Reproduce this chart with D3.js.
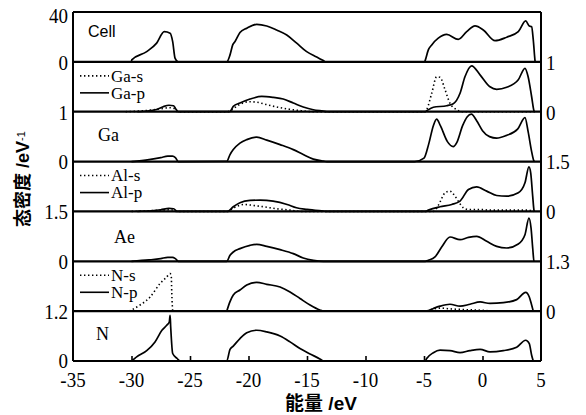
<!DOCTYPE html>
<html>
<head>
<meta charset="utf-8">
<script src="https://cdn.jsdelivr.net/npm/d3@7"></script>
<style>
  body { margin: 0; background: #fff; }
  text { fill: #000; }
</style>
</head>
<body>
<svg id="chart" width="586" height="415"></svg>
<script>
// energy axis
const energyTicks = [-35, -30, -25, -20, -15, -10, -5, 0, 5];

// density of states, [energy eV, value]
const cellTotal = [
  [-30.0, 0], [-29.98, 1.6], [-28.7, 8.2], [-27.85, 15], [-27.2, 24.2], [-26.7, 23], [-26.48, 16.2], [-26.28, 3], [-26.0, 0],
  [-21.86, 0], [-21.58, 5.6], [-21.35, 13.6], [-21.15, 16.3], [-20.73, 23.5], [-20.15, 27], [-19.3, 30.1], [-18.44, 28.8],
  [-17.6, 25.6], [-16.73, 21.6], [-15.88, 15], [-15.03, 8.2], [-14.17, 3.8], [-13.6, 1], [-13.4, 0],
  [-4.95, 0], [-4.91, 0.8], [-4.63, 9.6], [-4.34, 13.6], [-3.78, 19], [-3.06, 22], [-2.07, 18], [-1.35, 24.2], [-0.64, 28.8],
  [0.07, 25.6], [1.07, 17], [2.07, 19.8], [3.06, 24.2], [3.69, 32.8], [4.0, 28.8], [4.2, 28.2], [4.34, 17.6], [4.49, 0.8], [4.5, 0]
];
const gaS = [
  [-30.5, 0], [-29.5, 0.01], [-28.5, 0.03], [-27.5, 0.06], [-26.8, 0.08], [-26.3, 0.06], [-26.1, 0],
  [-21.8, 0], [-21.5, 0.03], [-20.8, 0.14], [-20.0, 0.2], [-19.3, 0.19], [-18.4, 0.14], [-17.5, 0.09], [-16.5, 0.05], [-15.5, 0.02], [-14.5, 0],
  [-4.9, 0], [-4.77, 0.04], [-4.34, 0.37], [-3.92, 0.7], [-3.63, 0.69], [-3.2, 0.44], [-2.78, 0.17], [-2.2, 0.04], [-1.8, 0], [4.5, 0]
];
const gaP = [
  [-29.5, 0], [-28.5, 0.02], [-27.8, 0.05], [-27.3, 0.1], [-26.8, 0.13], [-26.4, 0.12], [-26.2, 0.05], [-26.0, 0],
  [-21.7, 0], [-21.58, 0.006], [-21.3, 0.106], [-20.73, 0.174], [-19.87, 0.254], [-18.87, 0.306], [-17.88, 0.286], [-17.03, 0.254],
  [-16.17, 0.174], [-15.32, 0.094], [-14.46, 0.04], [-13.6, 0.014], [-13.2, 0],
  [-4.9, 0], [-4.77, 0.02], [-4.2, 0.09], [-3.06, 0.12], [-2.5, 0.16], [-1.92, 0.37], [-1.5, 0.7], [-0.93, 0.92], [-0.21, 0.74],
  [0.64, 0.5], [1.21, 0.45], [2.07, 0.49], [3.06, 0.64], [3.63, 0.87], [3.9, 0.7], [4.2, 0.3], [4.4, 0.02], [4.45, 0]
];
const gaTotal = [
  [-30, 0], [-28.5, 0.04], [-27.5, 0.08], [-26.9, 0.11], [-26.5, 0.11], [-26.25, 0.08], [-26.0, 0],
  [-21.86, 0.006], [-21.58, 0.14], [-21.3, 0.24], [-20.73, 0.37], [-20.15, 0.44], [-19.3, 0.49], [-18.44, 0.43], [-17.3, 0.34],
  [-16.17, 0.24], [-15.32, 0.14], [-14.46, 0.05], [-13.6, 0.01], [-13.3, 0],
  [-5.8, 0], [-5.0, 0.07], [-4.6, 0.35], [-4.2, 0.72], [-3.92, 0.85], [-3.6, 0.72], [-3.0, 0.4], [-2.5, 0.3], [-2.2, 0.38],
  [-1.7, 0.72], [-1.3, 0.9], [-0.95, 0.95], [-0.5, 0.82], [0, 0.62], [0.6, 0.5], [1.2, 0.47], [2.0, 0.52], [3.0, 0.65],
  [3.63, 0.88], [3.9, 0.6], [4.2, 0.2], [4.4, 0.01], [4.45, 0]
];
const alS = [
  [-30, 0], [-28.5, 0.02], [-27.3, 0.04], [-26.6, 0.05], [-26.2, 0],
  [-21.8, 0], [-21.3, 0.1], [-20.4, 0.21], [-19.6, 0.18], [-18.7, 0.14], [-17.6, 0.08], [-16.4, 0.04], [-15.5, 0],
  [-4.2, 0], [-3.78, 0.18], [-3.2, 0.56], [-2.78, 0.61], [-2.35, 0.46], [-2.07, 0.31], [-1.64, 0.11], [-1.2, 0.06],
  [-0.2, 0.06], [0.6, 0.04], [3.8, 0.04], [4.4, 0]
];
const alP = [
  [-29.5, 0], [-28.3, 0.02], [-27.5, 0.05], [-26.8, 0.09], [-26.4, 0.08], [-26.1, 0],
  [-21.8, 0], [-21.3, 0.14], [-20.73, 0.26], [-19.87, 0.33], [-19, 0.34], [-17.9, 0.31], [-16.7, 0.21], [-15.9, 0.11],
  [-15, 0.06], [-13.6, 0.01], [-13.3, 0],
  [-4.9, 0], [-4.63, 0.04], [-3.63, 0.14], [-2.63, 0.21], [-1.92, 0.31], [-1.2, 0.66], [-0.5, 0.74], [0.36, 0.61],
  [1.21, 0.48], [2.07, 0.46], [3.06, 0.56], [3.63, 0.86], [3.97, 1.34], [4.12, 1.16], [4.29, 0.46], [4.4, 0.04], [4.45, 0]
];
const aeTotal = [
  [-30, 0], [-28.5, 0.04], [-27.5, 0.08], [-26.9, 0.12], [-26.5, 0.12], [-26.25, 0.08], [-26, 0],
  [-21.86, 0], [-21.58, 0.18], [-21.3, 0.28], [-20.73, 0.38], [-19.87, 0.48], [-19.3, 0.51], [-18.44, 0.45], [-17.3, 0.35],
  [-16.17, 0.23], [-15.32, 0.1], [-14.46, 0.03], [-13.6, 0],
  [-4.9, 0], [-4.63, 0.03], [-4.06, 0.13], [-3.49, 0.43], [-2.78, 0.73], [-1.92, 0.65], [-1.2, 0.72], [-0.5, 0.75],
  [0.36, 0.6], [1.21, 0.45], [2.07, 0.4], [3.06, 0.52], [3.63, 0.8], [3.97, 1.3], [4.15, 1.0], [4.29, 0.4], [4.4, 0.01], [4.45, 0]
];
const nS = [
  [-30.2, 0], [-30, 0.03], [-29.27, 0.16], [-28.4, 0.37], [-27.56, 0.72], [-26.99, 0.89], [-26.7, 0.98], [-26.6, 0.9],
  [-26.56, 0.5], [-26.48, 0.03], [-26.4, 0],
  [-4.8, 0], [-4.5, 0.03], [-3.63, 0.08], [-2.78, 0.06], [-1.6, 0.04], [0.05, 0.02], [0.8, 0]
];
const nP = [
  [-21.86, 0], [-21.58, 0.25], [-21.3, 0.42], [-20.73, 0.55], [-20.15, 0.68], [-19.3, 0.75], [-18.44, 0.7], [-17.3, 0.63],
  [-16.45, 0.5], [-15.6, 0.33], [-14.74, 0.16], [-13.9, 0.03], [-13.6, 0],
  [-4.77, 0], [-4.2, 0.07], [-3.63, 0.13], [-2.78, 0.18], [-1.92, 0.13], [-1.07, 0.18], [-0.2, 0.24], [0.64, 0.2],
  [1.78, 0.22], [2.92, 0.3], [3.69, 0.49], [4.0, 0.37], [4.2, 0.16], [4.34, 0]
];
const nTotal = [
  [-30, 0], [-29.9, 0.02], [-29.56, 0.1], [-28.7, 0.25], [-27.99, 0.46], [-27.4, 0.74], [-26.99, 0.86], [-26.77, 0.94],
  [-26.7, 1.1], [-26.65, 0.82], [-26.48, 0.18], [-26.1, 0.06], [-25.85, 0],
  [-21.86, 0], [-21.58, 0.28], [-21.3, 0.36], [-20.73, 0.54], [-20.15, 0.68], [-19.3, 0.74], [-18.44, 0.7], [-17.3, 0.6],
  [-16.45, 0.46], [-15.6, 0.3], [-14.74, 0.17], [-13.9, 0.05], [-13.6, 0],
  [-4.9, 0], [-4.77, 0.06], [-4.2, 0.2], [-3.63, 0.26], [-2.78, 0.25], [-1.92, 0.2], [-1.07, 0.25], [-0.2, 0.28],
  [0.64, 0.22], [1.78, 0.25], [2.92, 0.33], [3.69, 0.5], [4.0, 0.42], [4.2, 0.14], [4.34, 0]
];

// panels from top to bottom
const panelMax = [40, 1, 1, 1.5, 1.5, 1.3, 1.2];
const panelTickLabels = [["40", "0"], ["1", "0"], ["1", "0"], ["1.5", "0"], ["1.5", "0"], ["1.3", "0"], ["1.2", "0"]];
const panelSide = ["left", "right", "left", "right", "left", "right", "left"];
const panelNames = ["Cell", null, "Ga", null, "Ae", null, "N"];
const panelLegends = [null, ["Ga-s", "Ga-p"], null, ["Al-s", "Al-p"], null, ["N-s", "N-p"], null];
const panelSeries = [
  [{ data: cellTotal }],
  [{ data: gaS, dotted: true }, { data: gaP }],
  [{ data: gaTotal }],
  [{ data: alS, dotted: true }, { data: alP }],
  [{ data: aeTotal }],
  [{ data: nS, dotted: true }, { data: nP }],
  [{ data: nTotal }]
];

const svg = d3.select("#chart");
const L = 73, R = 541, T = 12, B = 361;
const ph = (B - T) / panelMax.length;
const serif = "'Liberation Serif', 'Times New Roman', serif";
const sansCjk = "'Liberation Sans', 'Noto Sans CJK SC', sans-serif";

const x = d3.scaleLinear().domain([-35, 5]).range([L, R]);

function numLabel(px, py, anchor, str) {
  svg.append("text")
    .attr("transform", `translate(${px},${py}) scale(1,1.15)`)
    .attr("text-anchor", anchor)
    .attr("dy", "0.36em")
    .style("font-family", serif)
    .style("font-size", "19px")
    .text(str);
}

const line = d3.line().curve(d3.curveMonotoneX);

panelMax.forEach((max, i) => {
  const top = T + i * ph, bot = top + ph;
  const y = d3.scaleLinear().domain([0, max]).range([bot, top]);
  const g = svg.append("g");

  panelSeries[i].forEach(s => {
    g.append("path")
      .attr("d", line.x(d => x(d[0])).y(d => y(d[1]))(s.data))
      .attr("fill", "none")
      .attr("stroke", "#000")
      .attr("stroke-width", s.dotted ? 1.6 : 1.7)
      .attr("stroke-dasharray", s.dotted ? "1.4,2.6" : null)
      .attr("stroke-linejoin", "round");
  });

  // tick labels for top and bottom of the panel
  const lx = panelSide[i] === "left" ? L - 5 : R + 5;
  const anchor = panelSide[i] === "left" ? "end" : "start";
  numLabel(lx, y(max) + (i === 0 ? 3 : 0), anchor, panelTickLabels[i][0]);
  numLabel(lx, y(0) - (i === panelMax.length - 1 ? 1 : 0), anchor, panelTickLabels[i][1]);

  if (panelNames[i]) {
    const pos = { Cell: [88, 31], Ga: [98, 135], Ae: [114, 237], N: [96, 334] }[panelNames[i]];
    g.append("text")
      .attr("x", pos[0]).attr("y", pos[1])
      .attr("dy", "0.36em")
      .style("font-family", panelNames[i] === "Cell" ? "'Liberation Sans', Arial, sans-serif" : serif)
      .style("font-size", panelNames[i] === "Cell" ? "16px" : "18px")
      .text(panelNames[i]);
  }

  if (panelLegends[i]) {
    panelLegends[i].forEach((name, k) => {
      const ly = top + 14 + k * 17;
      g.append("line")
        .attr("x1", 80).attr("x2", 109).attr("y1", ly).attr("y2", ly)
        .attr("stroke", "#000")
        .attr("stroke-width", 1.6)
        .attr("stroke-dasharray", k === 0 ? "1.4,2.6" : null);
      g.append("text")
        .attr("x", 111).attr("y", ly)
        .attr("dy", "0.34em")
        .style("font-family", serif)
        .style("font-size", "17px")
        .text(name);
    });
  }

  // panel baseline
  svg.append("line")
    .attr("x1", L).attr("x2", R).attr("y1", bot).attr("y2", bot)
    .attr("stroke", "#000").attr("stroke-width", 2.2);
});

// frame
svg.append("line").attr("x1", L).attr("x2", R).attr("y1", T).attr("y2", T).attr("stroke", "#000").attr("stroke-width", 2);
svg.append("line").attr("x1", L).attr("x2", L).attr("y1", T).attr("y2", B).attr("stroke", "#000").attr("stroke-width", 2);
svg.append("line").attr("x1", R).attr("x2", R).attr("y1", T).attr("y2", B).attr("stroke", "#000").attr("stroke-width", 2);

// x axis ticks (inward) and labels
const xAxis = d3.axisBottom(x).tickValues(energyTicks.slice(1, -1)).tickSize(-5).tickFormat("");
svg.append("g")
  .attr("transform", `translate(0,${B})`)
  .call(xAxis)
  .call(a => a.select(".domain").remove())
  .call(a => a.selectAll(".tick line").attr("stroke", "#000").attr("stroke-width", 1.6));

energyTicks.forEach(v => numLabel(x(v), B + 18, "middle", String(v)));

// axis titles
svg.append("text")
  .attr("x", 321).attr("y", 403)
  .attr("text-anchor", "middle")
  .attr("dy", "0.36em")
  .style("font-family", sansCjk)
  .style("font-size", "19px")
  .style("font-weight", "bold")
  .text("能量 /eV");

const yt = svg.append("text")
  .attr("transform", "translate(23,179) rotate(-90)")
  .attr("text-anchor", "middle")
  .attr("dy", "0.36em")
  .style("font-family", sansCjk)
  .style("font-size", "18px")
  .style("font-weight", "bold");
yt.append("tspan").text("态密度 /eV");
yt.append("tspan").attr("dy", "-0.45em").style("font-size", "11px").style("font-weight", "normal").text("-1");
</script>
</body>
</html>
